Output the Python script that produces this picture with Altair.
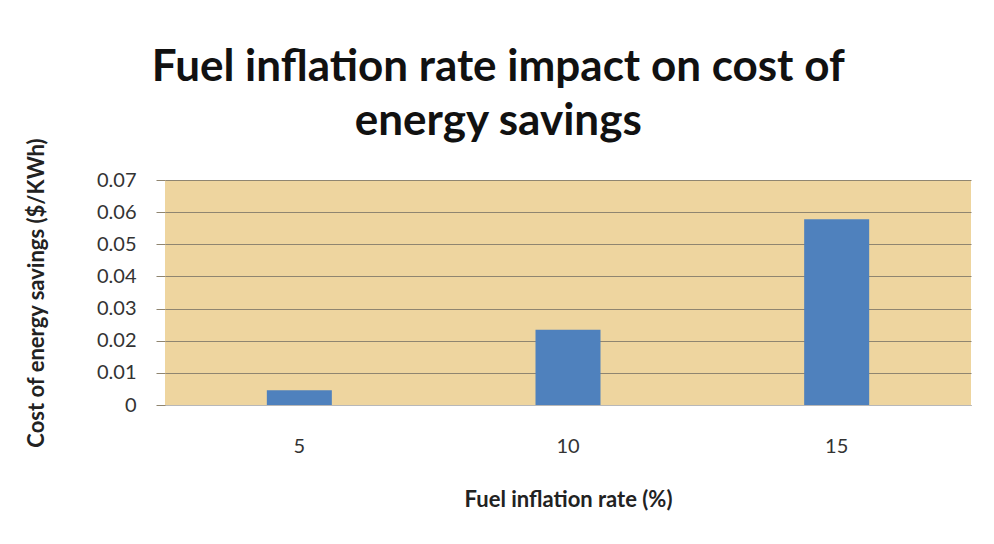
import altair as alt
import pandas as pd

rates = ["5", "10", "15"]
costs = [0.0046, 0.0234, 0.0578]
y_ticks = [0, 0.01, 0.02, 0.03, 0.04, 0.05, 0.06, 0.07]

df = pd.DataFrame({"rate": rates, "cost": costs})

chart = alt.Chart(df).mark_bar(color="#4f81bd", size=65).encode(
    x=alt.X("rate:N", sort=rates,
            scale=alt.Scale(paddingInner=0.758, paddingOuter=0.379),
            axis=alt.Axis(title="Fuel inflation rate (%)", labelAngle=0,
                          labelFont="Lato", labelFontSize=20, labelColor="#333333",
                          labelPadding=31, ticks=False, domainColor="#b8b8b8",
                          titleFont="Lato", titleFontSize=22, titleFontWeight="bold",
                          titleColor="#222222", titlePadding=33, grid=False)),
    y=alt.Y("cost:Q",
            scale=alt.Scale(domain=[0, 0.07], nice=False),
            axis=alt.Axis(title="Cost of energy savings ($/KWh)", values=y_ticks,
                          format="g", labelFont="Lato", labelFontSize=20,
                          labelColor="#333333", labelPadding=20, tickSize=9,
                          tickColor="#8f8570", domain=False,
                          gridColor="#8f8570", gridWidth=1,
                          titleFont="Lato", titleFontSize=22, titleFontWeight="bold",
                          titleColor="#222222", titlePadding=48)),
).properties(
    width=806,
    height=225,
    title=alt.TitleParams(
        text=["Fuel inflation rate impact on cost of", "energy savings"],
        font="Lato", fontSize=44, fontWeight="bold", color="#111111",
        anchor="middle", frame="bounds", lineHeight=54, offset=-7,
    ),
    padding={"left": 17, "top": 38, "right": 10, "bottom": 10},
).configure(
    background="white"
).configure_view(
    fill="#eed59f", stroke=None
)

chart.save("out.html", embed_options={"renderer": "svg", "actions": False})
